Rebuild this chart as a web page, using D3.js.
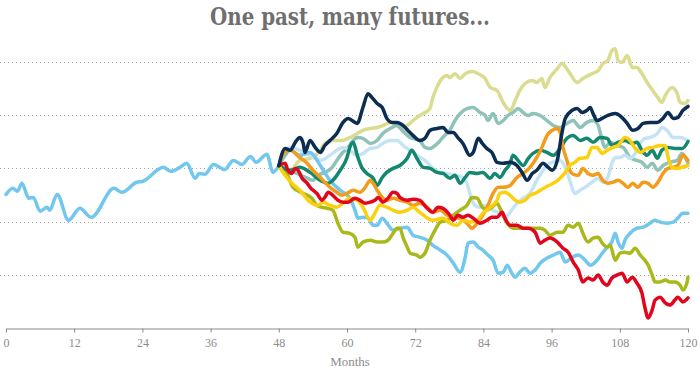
<!DOCTYPE html>
<html>
<head>
<meta charset="utf-8">
<script src="https://cdn.jsdelivr.net/npm/d3@7"></script>
<style>
  body { margin: 0; background: #fff; }
  #chart { width: 700px; height: 371px; }
</style>
</head>
<body>
<div id="chart"></div>
<script>
// One past (months 0-48) and ten simulated futures (months 48-120)
// values are an index where the dotted gridlines sit at 20, 40, 60, 80, 100

const monthTicks = [0, 12, 24, 36, 48, 60, 72, 84, 96, 108, 120];
const gridValues = [20, 40, 60, 80, 100];

const past = [[0,50.2],[1.2,52.5],[2,51.4],[2.8,54.4],[4,48.8],[4.8,49.1],[6,43.9],[7.2,45.4],[7.7,44.3],[9,50.2],
  [11,40.5],[13,45],[15,41.6],[19,52.5],[20.4,51],[23,54.8],[24,55.1],[27.7,60.4],[29,58.9],[30.6,60.4],[31.8,61.9],
  [33.3,56.3],[34,58.1],[35,57.8],[36.5,61.5],[38.5,59.6],[40,63],[41.5,61.5],[43,64.5],[44,62.3],[45.9,65.3],[47,58.5],[48,61]];

const futureKhaki = [[48,61],[50,59.3],[51.7,63],[53.5,63.8],[55.3,66.8],[56.1,69.4],[57.5,70.5],[59.1,70.5],[60.5,71.6],
  [61.8,73.1],[62.8,74.3],[64.1,75],[65.3,75.4],[66.3,76.1],[67.6,77.3],[68.5,76.9],[69.3,75.4],[70.6,76.1],[71.6,78],
  [72.8,79.9],[73.4,80.6],[74.6,82.5],[75.1,86.6],[75.8,90.4],[76.7,93.8],[77.6,94.9],[78.1,94.1],[79,95.6],[79.9,93.8],
  [80.8,95.6],[82,96.4],[83.1,95.6],[84.3,93.8],[85.2,90.4],[86.4,89.3],[87.3,85.5],[88.2,82.5],[88.7,81.8],[89.6,85.5],
  [90.4,89.3],[91.3,91.9],[92.6,93],[93.4,92.3],[94.3,93.8],[94.8,90.4],[95.7,94.1],[97,97.5],[97.8,99.4],[98.9,96.8],
  [100.5,92.3],[101.5,93.8],[103.1,95.6],[104.2,96.8],[105,99.4],[105.9,100.5],[106.6,104.3],[107.2,105],[107.7,100.5],
  [108.4,99.8],[109.3,102.4],[110.2,97.9],[111,97.9],[111.9,95.6],[112.8,92.3],[113.8,89.3],[114.7,86.6],[115.4,84.8],
  [116,87.4],[117.2,90.4],[118.1,88.1],[118.6,84.8],[119.5,84.4],[120,85.5]];

const futureGreyTeal = [[48,61],[48.7,60.4],[51.2,58.1],[53,56.3],[54,55.5],[54.9,57.4],[56.1,58.5],[57.4,60.4],[58.2,63],
  [59.1,65.6],[60.2,67.9],[61.1,70.5],[61.9,71.6],[62.8,71.3],[64.1,69.4],[65.3,70.5],[66.3,73.1],[67.6,75],[68.8,76.1],
  [69.7,74.3],[71.1,71.6],[72.8,70.5],[73.7,67.9],[74.6,67.5],[75.5,68.6],[76.4,70.5],[77.2,72.4],[78.1,74.3],[79,78],
  [79.9,80.6],[81.1,82.5],[82.2,82.9],[83.4,81],[84.3,79.9],[84.8,78],[85.7,80.6],[86.6,76.9],[87.5,78],[88.3,79.9],
  [89.2,81],[90.1,82.5],[91,81],[91.9,79.9],[92.7,80.6],[94,79.9],[95.2,78],[96.3,76.1],[97.5,75.4],[98.7,76.9],
  [99.8,78],[101,75.4],[102.2,77.3],[103.3,78],[104.2,76.1],[104.9,70.5],[105.4,67.9],[106.3,69.8],[107.5,68.6],
  [108.6,67.9],[109.8,64.1],[111,63],[111.9,62.3],[112.8,60.4],[113.7,61.9],[114.7,59.3],[115.6,61.1],[116.8,62.3],
  [118.1,63],[118.9,65.6],[120,61.9]];

const futurePaleBlue = [[48,61],[50,67.9],[51.7,66.8],[53.5,64.9],[55.3,63],[57,64.9],[58.2,66.8],[59.3,67.9],[60.5,66.8],
  [61.8,64.9],[62.8,65.6],[64.1,67.5],[65.3,67.9],[66.3,69.4],[67.6,70.5],[68.8,70.5],[69.9,68.6],[71.1,66.8],[72.3,64.9],
  [74.1,62.3],[75.1,60],[76.4,58.5],[77.6,58.1],[78.7,57.4],[79.9,57],[81.1,54.4],[81.6,50.6],[82.5,46.1],[83.4,45.4],
  [84.6,46.1],[85.7,44.3],[86.9,43.1],[87.8,41.3],[88.7,43.5],[89.9,46.9],[91,48.8],[92.2,50.6],[93.4,55.5],[94.5,59.3],
  [95.7,61.9],[97.5,63],[98.4,60.4],[99.2,55.5],[100.1,50.6],[101,51.8],[101.9,52.9],[103.1,54.8],[104.2,56.3],[105,54.8],
  [105.9,56.6],[106.6,61.9],[107.2,64.1],[108,64.1],[108.9,64.9],[109.8,63.8],[110.7,65.6],[111.6,69.4],[112.4,71.3],
  [113.3,71.6],[114.6,73.1],[115.4,75.4],[116.3,74.3],[117.4,71.6],[118.6,71.6],[120,70.5]];

const futureSkyBlue = [[48,61],[49.1,64.9],[50,66.8],[51.7,64.9],[53.5,66],[55.3,61.1],[57,55.5],[58.8,51.8],[60.5,48.8],
  [61.4,44.3],[61.9,41.3],[62.8,41.6],[63.7,41.3],[64.6,38.6],[65.3,38.6],[66.2,41.3],[67,39.4],[68.1,36.8],[69.3,37.5],
  [70.6,37.9],[71.6,34.9],[72.8,34.1],[74.1,33],[75.1,31.1],[76.4,29.3],[77.6,27.4],[78.7,24.4],[79.9,21],[80.8,26.6],
  [81.3,31.9],[82.2,32.3],[83.1,30.4],[83.9,29.3],[84.8,27.4],[85.7,25.5],[86.6,20.6],[87.5,21],[88.2,23.6],[89,20.6],
  [89.6,19.1],[90.4,21],[91.3,22.5],[92.2,20.6],[93.1,21.8],[94,24.4],[95.2,26.3],[96.3,27.4],[97.5,28.5],[98.4,24.8],
  [99.6,26.6],[100.7,27.4],[101.9,25.5],[102.8,23.6],[104,25.5],[104.9,28.1],[105.8,30.4],[106.6,32.3],[107.2,35.6],
  [107.7,32.3],[108.4,30],[108.9,33],[109.8,35.6],[111,37.5],[112.1,37.9],[113.3,39.4],[114.2,40.5],[115.1,39.8],
  [116.3,39.4],[117.4,39.8],[118.2,41.3],[119.1,43.1],[120,43.1]];

const futureOlive = [[48,61],[48.2,60.4],[49.4,58.1],[50.5,52.9],[52.3,50.6],[53.8,48.8],[54.7,46.1],[55.6,45.4],[56.5,45],
  [57.5,44.3],[58.4,39.4],[59.3,36],[60.5,35.6],[61.4,34.1],[61.9,30.4],[62.8,32.3],[64.1,33],[65.3,32.3],[66.3,32.3],
  [67.2,33],[68.1,35.6],[68.8,37.5],[69.3,37.5],[69.9,33.8],[70.6,30.4],[71.1,28.1],[72.3,27.4],[72.8,26.6],[73.7,28.1],
  [74.6,33],[75.5,36.8],[76.4,39.8],[77.6,40.5],[78.7,42.4],[79.9,44.3],[81.1,46.1],[82,49.1],[82.9,48.8],[83.8,45.4],
  [84.6,44.3],[85.5,45.4],[86.4,46.9],[87.3,43.1],[88.2,39.4],[89.2,37.5],[90.4,37.5],[91.7,37.5],[92.7,37.5],[94,37.5],
  [94.8,36.8],[95.7,34.9],[97,36],[98,36],[98.9,38.6],[99.8,37.9],[100.7,39.4],[101.5,35.6],[102.4,32.3],[103.3,33.8],
  [104.2,34.1],[104.9,31.9],[105.8,30.4],[106.3,31.1],[107.2,25.5],[108,28.1],[108.9,28.5],[109.8,28.1],[110.7,30],
  [111.6,27.4],[112.4,25.5],[113,23.6],[113.7,19.9],[114.2,17.3],[115.1,17.3],[116,18],[116.8,17.3],[117.7,17.3],
  [118.6,16.1],[119.1,14.3],[119.8,16.9],[120,19.1]];

const futureTeal = [[48,61],[50,59.3],[51.7,60.4],[53.5,58.5],[55.3,55.5],[56.7,54.4],[57.5,55.5],[58.8,59.3],[60,64.1],
  [60.5,67.9],[61.1,69.8],[61.8,64.9],[62.6,60.4],[63.5,58.1],[64.6,56.3],[65.3,53.6],[66.2,56.6],[67,58.5],[68.1,60],
  [69.3,61.1],[70.6,63.8],[71.4,66.8],[72.3,63.8],[73.4,60.4],[74.6,60],[75.8,58.5],[76.9,58.1],[78.1,56.3],[79,57.4],
  [79.9,54.4],[80.8,56.6],[81.6,58.5],[82.9,58.1],[83.9,58.5],[85.2,56.3],[86,58.1],[86.9,56.6],[87.8,59.3],[88.7,61.9],
  [89.2,64.9],[90.1,63],[91,61.1],[91.9,63.8],[92.7,65.6],[94,66.8],[95.2,66],[96.3,64.9],[97.5,67.5],[98.7,71.3],
  [99.8,72.4],[101,70.5],[102.2,71.3],[103.3,69.8],[104.5,71.6],[105.8,71.3],[106.6,68.6],[107.7,69.8],[108.9,70.5],
  [110.2,69.4],[111,69.8],[111.9,66.8],[112.8,64.9],[113.7,66.8],[114.6,63.8],[115.4,66.8],[116.5,67.9],[117.7,67.5],
  [119,67.5],[120,70.1]];

const futureOrange = [[48,61],[49.1,66],[50,66.8],[51.7,64.1],[53,61.9],[54,59.3],[55.3,56.6],[56.1,54.8],[57,52.9],
  [58.2,51],[59.1,49.9],[60,50.6],[61.1,51.8],[62.3,51],[63.2,52.9],[64.1,55.5],[64.6,54.4],[65.3,51.8],[66.2,49.1],
  [67,48],[68.1,48.8],[69.3,48],[70.6,47.3],[71.6,46.1],[72.8,46.9],[74.1,45.4],[75.1,43.5],[76.4,44.3],[77.6,42.4],
  [78.7,41.6],[79.9,41.3],[81.1,39.4],[82,37.5],[82.9,39.4],[83.9,42.4],[84.8,46.1],[85.7,50.6],[86.6,52.9],[87.5,52.9],
  [88.7,53.6],[89.9,56.6],[91,58.1],[92.2,60.4],[93.4,64.1],[94.3,67.9],[95.2,72.4],[96.1,74.3],[97,75],[97.5,73.5],
  [98,67.9],[98.7,63],[99.2,59.3],[99.8,57.8],[100.7,57.4],[101.5,60],[102.4,58.1],[103.3,57.4],[104.2,58.1],[105,55.5],
  [105.9,54.4],[106.8,54.8],[107.7,55.5],[108.6,54.4],[109.4,52.9],[110.3,54.4],[111.2,52.9],[112.1,54.8],[113,54.4],
  [113.8,52.9],[114.7,54.8],[115.6,58.1],[116.5,60],[117.4,60.4],[118.2,61.1],[119.1,64.9],[120,63]];

const futureYellow = [[48,61],[49.1,57.4],[50.3,54.4],[51.7,51.8],[53.5,47.3],[54.9,46.1],[55.8,47.3],[57,46.1],[58.2,45.4],
  [59.3,46.9],[60.5,48.8],[61.8,48],[62.8,45.4],[64.1,40.5],[64.9,43.1],[65.8,46.1],[67,45.4],[68.1,44.3],[69.3,43.5],
  [70.6,44.3],[71.6,45.4],[72.8,43.5],[75.1,40.5],[76.9,41.3],[78.1,39.4],[79.4,38.6],[80.4,40.5],[81.6,39.8],[82.9,40.5],
  [83.9,43.1],[85.2,45.4],[86.4,48],[86.9,50.6],[87.8,51],[88.7,49.9],[89.6,48],[90.4,47.3],[91.3,48],[92.2,49.9],
  [93.1,50.6],[94,51.8],[95.2,53.3],[96.3,54.4],[97.5,56.3],[98.4,58.5],[99.2,61.1],[100.1,62.3],[101,63.8],[102.2,64.1],
  [103.1,67.9],[104,67.9],[104.9,65.6],[105.8,66.8],[106.8,67.9],[107.7,68.6],[108.9,71.6],[109.8,70.5],[110.7,67.5],
  [111.6,66],[112.8,67.5],[113.8,67.9],[115.1,68.6],[116,68.6],[116.5,64.1],[117.2,60.4],[118.1,60],[118.9,60.4],[120,61.1]];

const futureRed = [[48,61],[49.1,61.9],[49.6,59.3],[50.3,58.1],[50.9,60],[51.4,59.3],[52.1,56.3],[53,54.4],[53.5,52.9],
  [54.7,50.6],[55.6,48],[56.1,49.1],[56.7,51],[57.5,49.9],[58.4,48],[59.3,47.3],[60.2,47.3],[61.4,48.8],[62.3,48],
  [63.2,46.9],[64.1,47.3],[64.9,48],[65.5,49.1],[66.3,47.3],[67.2,48.8],[68.1,51],[68.8,50.6],[69.3,49.1],[70.6,48],
  [71.6,48.4],[72.8,48],[74.1,45],[75.1,43.5],[76,45.4],[76.9,45],[78.1,42.4],[78.7,40.5],[79.5,42.4],[80.4,41.6],
  [81.3,42.4],[82.2,41.3],[83.4,39.4],[84.6,40.5],[85.5,41.6],[86.4,41.6],[87.3,43.5],[87.8,41.3],[88.7,38.6],[89.9,38.6],
  [91,37.5],[91.9,37.5],[93.1,36],[94,31.9],[94.8,33],[95.7,33.8],[97,32.3],[98,30],[98.9,28.5],[99.8,24.8],[100.7,21.8],
  [101.5,17.3],[102.4,18.8],[103.3,18],[104.2,19.9],[105,17.3],[105.8,16.1],[106.6,18.8],[107.5,19.9],[108.4,20.6],
  [109.3,17.3],[110.2,19.1],[111,16.9],[111.9,13.1],[112.4,7.9],[113,3.8],[113.7,6.8],[114.2,10.5],[115.1,11.6],[116,9.4],
  [116.8,8.6],[117.7,10.5],[118.2,11.6],[119.1,9.8],[120,11.3]];

const futureNavy = [[48,61],[49.1,67.5],[50,66.8],[50.9,69.8],[51.7,71.6],[52.3,69.4],[52.6,66],[53.5,70.5],[54.4,67.9],
  [55.3,66],[56.1,68.6],[57,70.5],[58.2,73.1],[59.3,77.3],[60.2,78.8],[61.8,76.9],[62.8,82.9],[63.7,88.1],[64.4,86.6],
  [65.3,84.4],[66.2,82.9],[67,78.8],[67.9,77.3],[68.8,77.3],[69.9,76.1],[70.7,74.3],[71.6,72.4],[72.8,70.5],[73.7,71.3],
  [74.6,74.3],[75.8,75],[76.9,75.4],[77.8,73.5],[78.7,73.5],[79.5,71.6],[80.4,69.4],[81.6,64.9],[82.2,66],[83.1,71.3],
  [83.8,69.4],[84.6,67.5],[85.5,66],[86.4,62.3],[87.5,61.9],[88.7,62.3],[89.9,61.1],[90.8,58.5],[91.7,55.5],[92.6,58.1],
  [93.4,59.3],[94.5,61.9],[95.4,60.4],[96.1,59.3],[97,63],[97.8,73.1],[98.4,78.8],[99.6,81.8],[100.5,82.5],[101.4,81],
  [102.2,81.8],[102.8,82.9],[103.3,80.6],[104,78],[104.9,78.8],[105.9,79.9],[107.2,80.6],[108.4,79.1],[109.3,76.9],
  [110.3,74.3],[111.2,75],[112.1,76.9],[113.3,77.3],[114.6,77.3],[115.6,78.8],[116.5,81],[117.4,78.8],[118.2,79.1],
  [119.1,81.8],[120,83.3]];

// drawing order, back to front
const futures = [futureKhaki, futureGreyTeal, futurePaleBlue, futureSkyBlue, futureOlive,
                 futureTeal, futureOrange, futureYellow, futureRed, futureNavy];
const futureColors = ["#dadc8f", "#8fc3ba", "#c4e4f5", "#72c7ee", "#a9b91c",
                      "#14886f", "#f39b1a", "#fbd10f", "#e1061d", "#0c2d52"];

let width = 700,
    height = 371;

const svg = d3.select("#chart")
    .append("svg")
    .attr("width", width)
    .attr("height", height);

let x = d3.scaleLinear()
    .domain([0, 120])
    .range([6, 688]);

let y = d3.scaleLinear()
    .domain([0, 100])
    .range([328, 62]);

svg.append("text")
    .attr("x", 350)
    .attr("y", 25)
    .attr("text-anchor", "middle")
    .attr("font-family", "DejaVu Serif Condensed, DejaVu Serif, serif")
    .attr("font-weight", "bold")
    .attr("font-size", 24)
    .attr("fill", "#6f6f6f")
    .attr("textLength", 280)
    .attr("lengthAdjust", "spacingAndGlyphs")
    .text("One past, many futures...");

// dotted gridlines
svg.append("g")
    .selectAll("line")
    .data(gridValues)
    .join("line")
    .attr("x1", 0)
    .attr("x2", 692)
    .attr("y1", d => Math.round(y(d)) + 0.5)
    .attr("y2", d => Math.round(y(d)) + 0.5)
    .attr("stroke", "#a8a8a8")
    .attr("stroke-width", 1)
    .attr("stroke-dasharray", "1,3");

const xAxis = svg.append("g")
    .attr("transform", `translate(0,${y(0) + 0.5})`)
    .call(d3.axisBottom(x)
        .tickValues(monthTicks)
        .tickSize(4)
        .tickSizeOuter(0)
        .tickPadding(6));

xAxis.select(".domain").attr("stroke", "#8a8a8a");
xAxis.selectAll(".tick line").attr("stroke", "#8a8a8a");
xAxis.selectAll(".tick text")
    .attr("fill", "#8c8c8c")
    .attr("font-family", "Liberation Serif, serif")
    .attr("font-size", 12);

svg.append("text")
    .attr("x", 350)
    .attr("y", 366)
    .attr("text-anchor", "middle")
    .attr("font-family", "Liberation Serif, serif")
    .attr("font-size", 13)
    .attr("fill", "#8c8c8c")
    .text("Months");

const line = d3.line()
    .x(d => x(d[0]))
    .y(d => y(d[1]))
    .curve(d3.curveMonotoneX);

svg.append("path")
    .datum(past)
    .attr("d", line)
    .attr("fill", "none")
    .attr("stroke", "#72c7ee")
    .attr("stroke-width", 3.5)
    .attr("stroke-linejoin", "round")
    .attr("stroke-linecap", "round");

svg.append("g")
    .selectAll("path")
    .data(futures)
    .join("path")
    .attr("d", line)
    .attr("fill", "none")
    .attr("stroke", (d, i) => futureColors[i])
    .attr("stroke-width", 3.5)
    .attr("stroke-linejoin", "round")
    .attr("stroke-linecap", "round");
</script>
</body>
</html>
